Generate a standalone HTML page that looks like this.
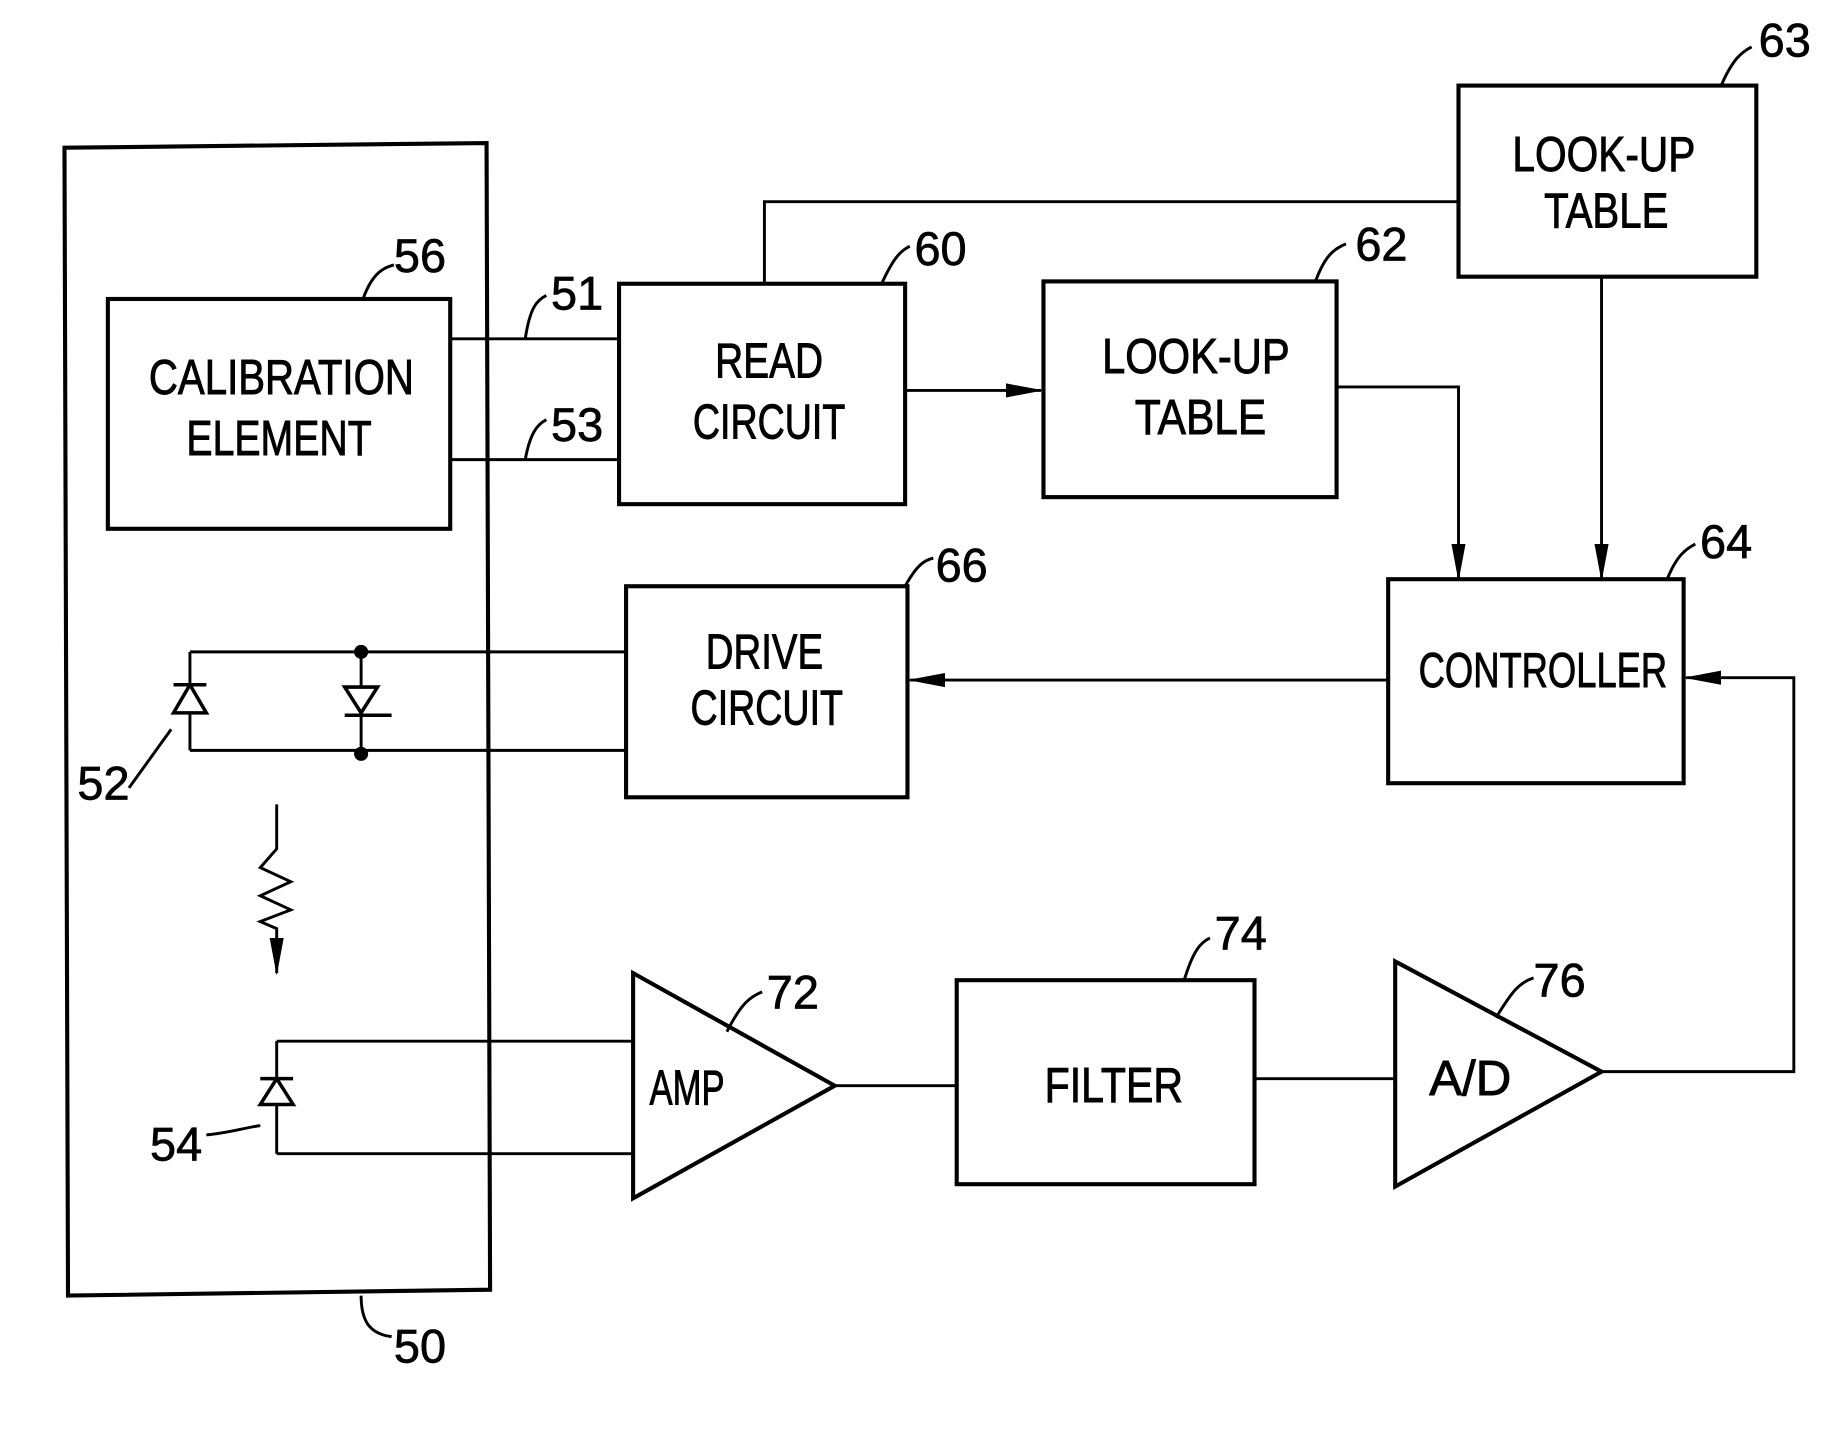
<!DOCTYPE html>
<html><head><meta charset="utf-8"><style>
html,body{margin:0;padding:0;background:#fff;}
svg{display:block;}
text{font-family:"Liberation Sans Narrow","Liberation Sans",sans-serif;fill:#000;}
</style></head><body>
<svg width="1829" height="1431" viewBox="0 0 1560 1220.5" preserveAspectRatio="none" xmlns="http://www.w3.org/2000/svg">
<defs><marker id="b" markerWidth="32" markerHeight="14" refX="30" refY="7" orient="auto" markerUnits="userSpaceOnUse"><path d="M0,1L32,7L0,13z" fill="#000"/></marker></defs>
<g fill="none" stroke="#000" stroke-width="3.5">
<path d="M55,126L415,122L418,1100L58,1105Z"/>
<rect x="92" y="255" width="292" height="196"/>
<rect x="528" y="242" width="244" height="188"/>
<rect x="890" y="240" width="250" height="184"/>
<rect x="1244" y="73" width="254" height="163"/>
<rect x="1184" y="494" width="252" height="174"/>
<rect x="534" y="500" width="240" height="180"/>
<rect x="816" y="836" width="254" height="174"/>
<path d="M540,830L540,1022L712,926Z"/>
<path d="M1190,820L1190,1012L1366,914Z"/>
<g stroke-width="2.5">
<path d="M384,289H528M384,392H528"/>
<path d="M772,333H888" marker-end="url(#b)"/>
<path d="M652,242V172H1244"/>
<path d="M1140,330H1244V494" marker-end="url(#b)"/>
<path d="M1366,236V494" marker-end="url(#b)"/>
<path d="M1184,580H776" marker-end="url(#b)"/>
<path d="M1366,914H1530V578H1438" marker-end="url(#b)"/>
<path d="M712,926H816M1070,920H1190"/>
<path d="M162,556H534M162,640H534M162,556V640M308,556V640"/>
<path d="M236,888H540M236,984H540M236,888V984"/>
<path d="M236,686V724L222,740L248,752L222,764L248,776L222,786L236,792V830" marker-end="url(#b)"/>
</g>
<g stroke-width="3" fill="#fff">
<path d="M148,608L176,608L162,584Z M148,584H176"/>
<path d="M294,586L322,586L308,608Z M294,610H334"/>
<path d="M222,942L250,942L236,920Z M222,920H250"/>
</g>
<g fill="#000" stroke="none"><circle cx="308" cy="556" r="6"/><circle cx="308" cy="643" r="6"/></g>
<g stroke-width="2.5">
<path d="M310,254C318,232 328,228 336,226"/>
<path d="M448,289C452,262 458,256 466,252"/>
<path d="M448,392C452,370 458,362 466,358"/>
<path d="M752,242C762,220 768,214 776,210"/>
<path d="M1122,240C1130,218 1138,212 1148,208"/>
<path d="M1468,73C1478,50 1486,44 1494,40"/>
<path d="M1422,494C1430,474 1438,468 1446,464"/>
<path d="M772,500C782,482 788,478 796,476"/>
<path d="M1010,836C1018,810 1024,804 1032,800"/>
<path d="M1276,868C1290,845 1296,838 1308,834"/>
<path d="M620,880C632,856 640,850 650,846"/>
<path d="M176,968C196,966 208,962 222,960"/>
<path d="M110,672L146,622"/>
<path d="M308,1105C308,1130 318,1138 334,1140"/>
</g>
</g>
<g font-size="42" text-anchor="middle" stroke="#000" stroke-width="0.8">
<text x="240" y="336" textLength="226" lengthAdjust="spacingAndGlyphs">CALIBRATION</text>
<text x="238" y="388" textLength="158" lengthAdjust="spacingAndGlyphs">ELEMENT</text>
<text x="656" y="322" textLength="92" lengthAdjust="spacingAndGlyphs">READ</text>
<text x="656" y="374" textLength="130" lengthAdjust="spacingAndGlyphs">CIRCUIT</text>
<text x="1020" y="318" textLength="160" lengthAdjust="spacingAndGlyphs">LOOK-UP</text>
<text x="1024" y="370" textLength="112" lengthAdjust="spacingAndGlyphs">TABLE</text>
<text x="1368" y="146" textLength="156" lengthAdjust="spacingAndGlyphs">LOOK-UP</text>
<text x="1370" y="194" textLength="106" lengthAdjust="spacingAndGlyphs">TABLE</text>
<text x="1316" y="586" textLength="212" lengthAdjust="spacingAndGlyphs">CONTROLLER</text>
<text x="652" y="570" textLength="100" lengthAdjust="spacingAndGlyphs">DRIVE</text>
<text x="654" y="618" textLength="130" lengthAdjust="spacingAndGlyphs">CIRCUIT</text>
<text x="950" y="940" textLength="118" lengthAdjust="spacingAndGlyphs">FILTER</text>
<text x="586" y="942" textLength="64" lengthAdjust="spacingAndGlyphs">AMP</text>
<text x="1254" y="934" textLength="70" lengthAdjust="spacingAndGlyphs">A/D</text>
</g>
<g font-size="40" stroke="#000" stroke-width="0.6">
<text x="336" y="232">56</text><text x="470" y="264">51</text><text x="470" y="376">53</text>
<text x="780" y="226">60</text><text x="1156" y="222">62</text><text x="1500" y="48">63</text>
<text x="1450" y="476">64</text><text x="798" y="496">66</text><text x="1036" y="810">74</text>
<text x="1308" y="850">76</text><text x="654" y="860">72</text><text x="66" y="682">52</text>
<text x="128" y="990">54</text><text x="336" y="1162">50</text>
</g>
</svg>
</body></html>
